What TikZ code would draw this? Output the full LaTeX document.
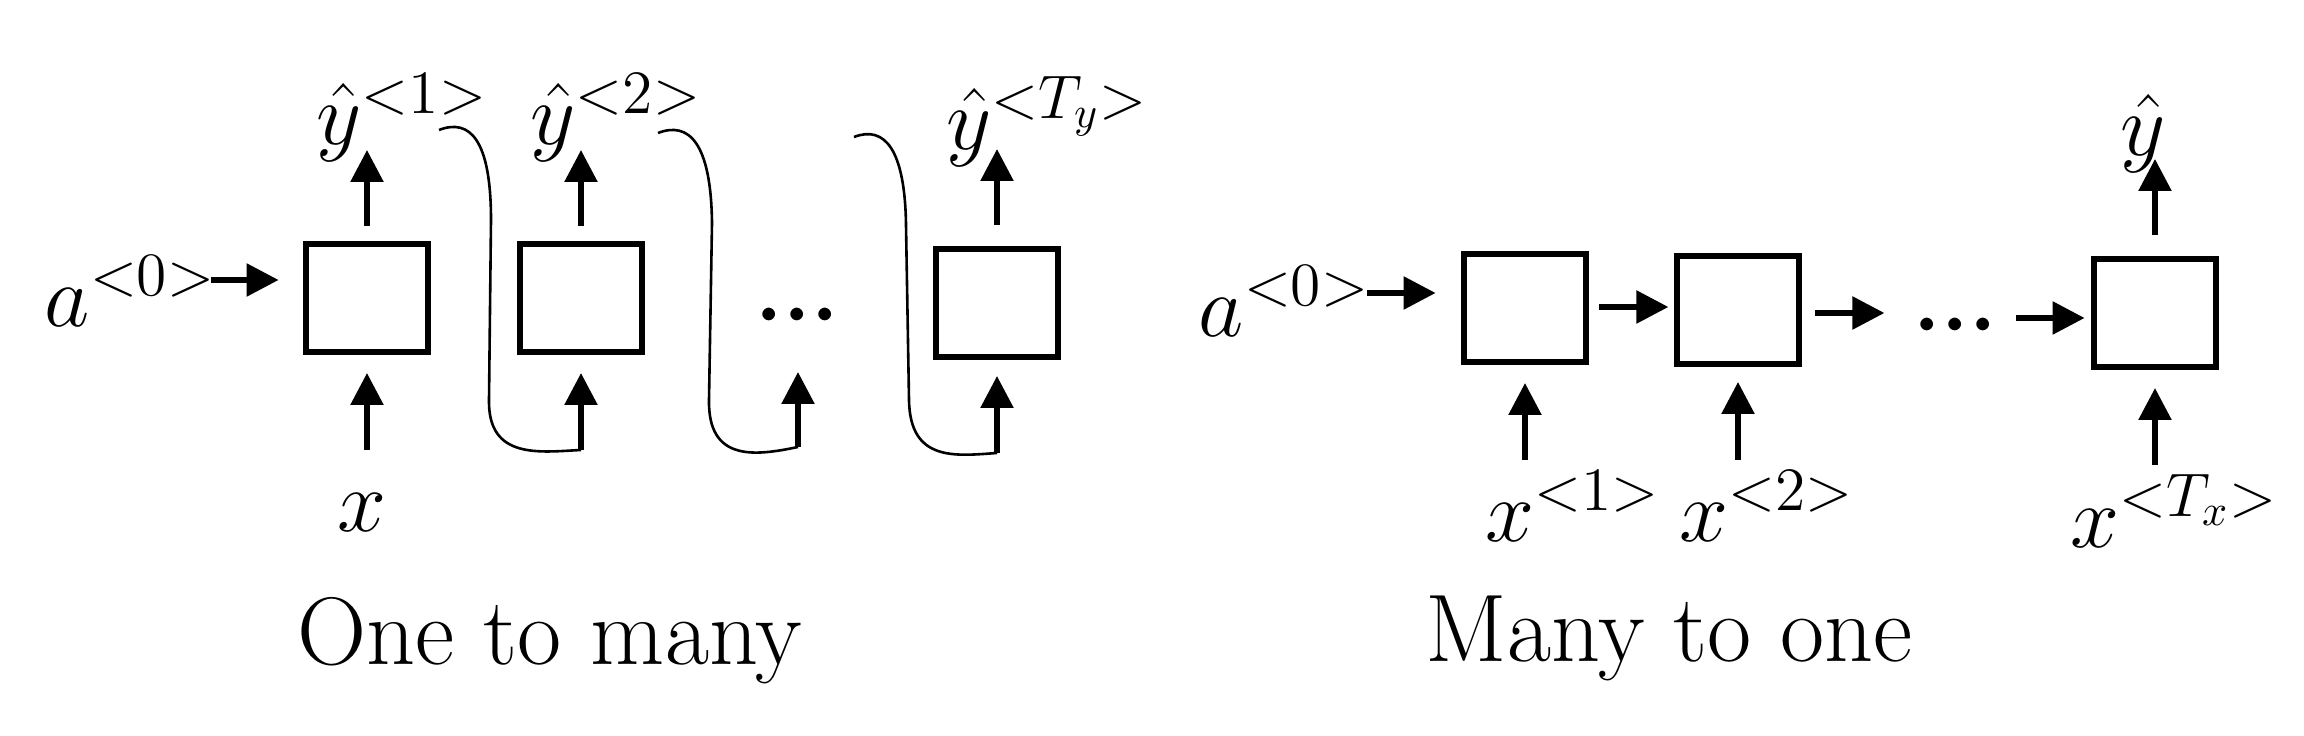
\RequirePackage{fix-cm}
\documentclass[tikz,border=0pt]{standalone}
\usetikzlibrary{arrows.meta}
\newcommand{\threedots}{${\cdot}\kern-1.3pt{\cdot}\kern-1.3pt{\cdot}$}
\begin{document}
\begin{tikzpicture}[x=0.25pt,y=-0.25pt,
  rnn/.style={draw,line width=1.6pt,minimum width=30.6pt,minimum height=26.9pt,inner sep=0pt},
  arr/.style={line width=1.4pt,-{Triangle[length=8pt,width=8pt]}},
  curv/.style={line width=0.65pt},
  lbl/.style={inner sep=0pt,anchor=base west,font=\fontsize{22}{26}\selectfont},
  captext/.style={inner sep=0pt,anchor=base west,font=\fontsize{24}{28}\selectfont},
  dotsn/.style={inner sep=0pt,anchor=base,font=\fontsize{30}{34}\selectfont}]
\fill[white] (0,0) rectangle (2304,736);
\useasboundingbox (0,0) rectangle (2304,736);

% ---------- One to many ----------
\node[rnn] (b1) at (367,298) {};
\node[rnn] (b2) at (581,298) {};
\node[rnn] (b3) at (997,303) {};

\node[lbl] (a0l) at (44,327) {$a^{<0>}$};
\node[lbl] (y1) at (316,145) {$\hat{y}^{<1>}$};
\node[lbl] (y2) at (530,145) {$\hat{y}^{<2>}$};
\node[lbl] (yT) at (946,150) {$\hat{y}^{<T_y>}$};
\node[lbl] (xl) at (337,532) {$x$};
\node[dotsn] (d1) at (797,345) {\threedots};
\node[captext] (c1) at (297,665) {One to many};

\draw[arr] ([shift={(-92,-18)}]b1.west) -- ++(68,0);
\draw[arr] ([shift={(0,-15)}]b1.north) -- ++(0,-76);
\draw[arr] ([shift={(0,95)}]b1.south) -- ++(0,-77);
\draw[arr] ([shift={(0,-15)}]b2.north) -- ++(0,-76);
\draw[arr] ([shift={(0,-21)}]b3.north) -- ++(0,-76);

\coordinate (t2) at ([shift={(0,95)}]b2.south);
\coordinate (td) at (798,447);
\coordinate (t3) at ([shift={(0,93)}]b3.south);
\draw[arr] (t2) -- ++(0,-77);
\draw[arr] (td) -- ++(0,-75);
\draw[arr] (t3) -- ++(0,-77);

\coordinate (s1) at (439,130);
\coordinate (s2) at (658,133);
\coordinate (s3) at (854,137);
\draw[curv] (s1) .. controls (470,118) and (491,140) .. (491,220) -- (489,400)
  .. controls (488,460) and (540,452) .. (t2);
\draw[curv] (s2) .. controls (689,121) and (711,143) .. (712,223) -- (709,400)
  .. controls (708,462) and (755,456) .. (td);
\draw[curv] (s3) .. controls (885,125) and (905,150) .. (906,225) -- (909,400)
  .. controls (910,462) and (955,456) .. (t3);

% ---------- Many to one ----------
\node[rnn] (b4) at (1525,308) {};
\node[rnn] (b5) at (1738,310) {};
\node[rnn] (b6) at (2155,313) {};

\node[lbl] (a0r) at (1198,337) {$a^{<0>}$};
\node[lbl] (x1) at (1485,542) {$x^{<1>}$};
\node[lbl] (x2) at (1679,542) {$x^{<2>}$};
\node[lbl] (xT) at (2070,548) {$x^{<T_x>}$};
\node[lbl] (yr) at (2120,156) {$\hat{y}$};
\node[dotsn] (d2) at (1955,355) {\threedots};
\node[captext] (c2) at (1425,662) {Many to one};

\draw[arr] ([shift={(-94,-15)}]b4.west) -- ++(69,0);
\draw[arr] ([shift={(10,-1)}]b4.east) -- ++(69,0);
\draw[arr] ([shift={(13,3)}]b5.east) -- ++(69,0);
\draw[arr] ([shift={(-75,5)}]b6.west) -- ++(69,0);
\draw[arr] ([shift={(0,-21)}]b6.north) -- ++(0,-76);
\draw[arr] ([shift={(0,95)}]b4.south) -- ++(0,-77);
\draw[arr] ([shift={(0,93)}]b5.south) -- ++(0,-78);
\draw[arr] ([shift={(0,95)}]b6.south) -- ++(0,-77);
\end{tikzpicture}
\end{document}
